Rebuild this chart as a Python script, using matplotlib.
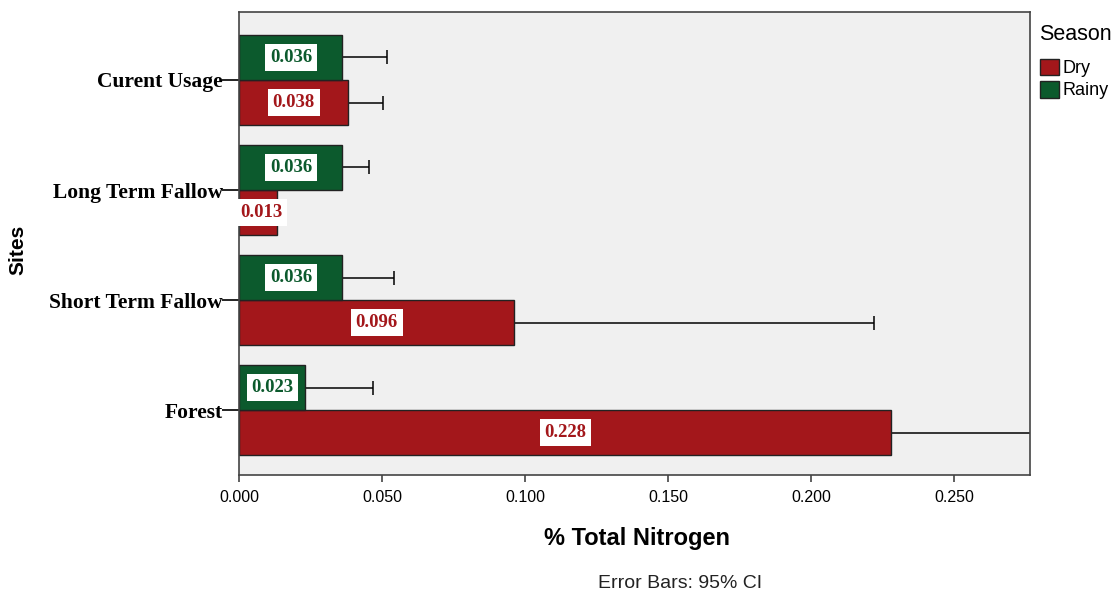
import matplotlib
matplotlib.use("Agg")
import matplotlib.pyplot as plt
import numpy as np
from matplotlib.patches import Patch

sites = ["Forest", "Short Term Fallow", "Long Term Fallow", "Curent Usage"]
dry = [0.228, 0.096, 0.013, 0.038]
rainy = [0.023, 0.036, 0.036, 0.036]
dry_err = [0.060, 0.126, 0.0, 0.0122]
rainy_err = [0.0237, 0.0181, 0.0093, 0.0156]
xticks = [0.0, 0.05, 0.10, 0.15, 0.20, 0.25]

DRY_C = "#a3171b"
RAINY_C = "#0c5a2d"
SERIF = ["Liberation Serif", "DejaVu Serif"]
SANS = ["Liberation Sans", "DejaVu Sans"]

fig = plt.figure(figsize=(11.19, 5.94), dpi=100)
ax = fig.add_axes([0.214, 0.2003, 0.7065, 0.7795])
ax.set_facecolor("#f0f0f0")

y = np.arange(len(sites))
h = 0.41
err_kw = dict(fmt="none", ecolor="black", elinewidth=1.1, capsize=5, capthick=1.1, zorder=1)
ax.errorbar(dry, y - h / 2, xerr=dry_err, **err_kw)
ax.errorbar(rainy, y + h / 2, xerr=rainy_err, **err_kw)
ax.barh(y - h / 2, dry, height=h, color=DRY_C, edgecolor="#222222", linewidth=1, zorder=2)
ax.barh(y + h / 2, rainy, height=h, color=RAINY_C, edgecolor="#222222", linewidth=1, zorder=2)


def label(v, yy, col):
    box = dict(boxstyle="square,pad=0.25", fc="white", ec="none")
    if v / 2 < 0.0095:
        x, ha = 0.0002, "left"
    else:
        x, ha = v / 2, "center"
    ax.text(x, yy, f"{v:.3f}", ha=ha, va="center", color=col, fontsize=13.5,
            fontweight="bold", family=SERIF, bbox=box, zorder=3)


for i in range(len(sites)):
    label(dry[i], y[i] - h / 2, DRY_C)
    label(rainy[i], y[i] + h / 2, RAINY_C)

ax.set_xlim(0, 0.2765)
ax.set_ylim(-0.59, 3.618)
ax.set_xticks(xticks)
ax.set_xticklabels([f"{t:.3f}" for t in xticks], family=SANS, fontsize=11.5)
ax.set_yticks(y)
ax.set_yticklabels(sites, family=SERIF, fontsize=15.5, fontweight="bold")
ax.tick_params(axis="y", length=12, width=1.2, pad=0, color="black")
ax.tick_params(axis="x", length=5, width=1.2, color="#444444", pad=6)
for s in ax.spines.values():
    s.set_color("#444444")
    s.set_linewidth(1.2)

ax.set_xlabel("% Total Nitrogen", family=SANS, fontsize=17, fontweight="bold")
ax.xaxis.set_label_coords(0.503, -0.112)
ax.set_ylabel("Sites", family=SANS, fontsize=15, fontweight="bold")
ax.yaxis.set_label_coords(-0.268, 0.486)
fig.text(0.608, 0.004, "Error Bars: 95% CI", ha="center", va="bottom", family=SANS,
         fontsize=14, color="#222222")

handles = [Patch(facecolor=DRY_C, edgecolor="#222222", label="Dry"),
           Patch(facecolor=RAINY_C, edgecolor="#222222", label="Rainy")]
leg = fig.legend(handles=handles, title="Season", loc="upper left",
                 bbox_to_anchor=(0.929, 0.96), frameon=False,
                 prop={"family": SANS, "size": 13}, handlelength=1.05,
                 handleheight=1.05, handletextpad=0.2, labelspacing=0.2,
                 borderaxespad=0, borderpad=0)
leg.get_title().set_fontsize(15.5)
leg.get_title().set_family(SANS)
leg._legend_box.align = "left"
leg._legend_box.sep = 10

fig.savefig("out.png", dpi=100)
